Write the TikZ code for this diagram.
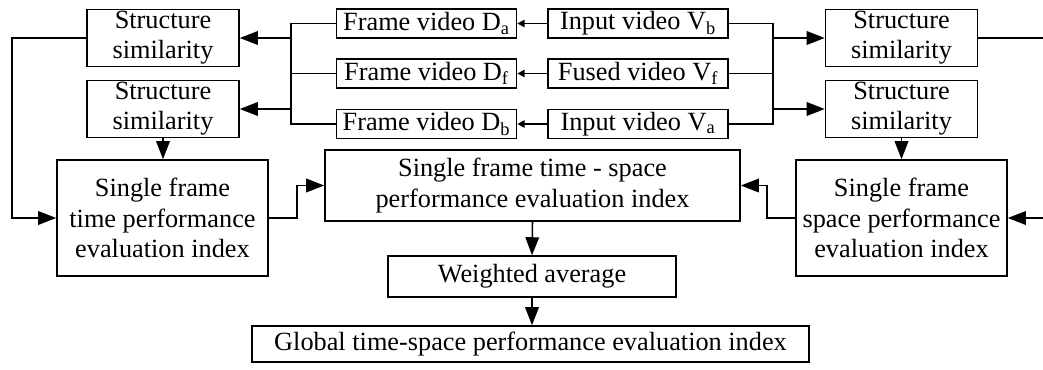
\documentclass[tikz,border=0pt]{standalone}
\usepackage{fontspec}
\setmainfont{Liberation Serif}
\usetikzlibrary{
    positioning,
    arrows.meta,
}
\tikzset{
    % Basic node styles
    box/.style={rectangle, draw, line width=1.1pt, align=center, inner sep=0pt,
                font=\fontsize{18.7}{21.5}\selectfont},
    ss box/.style={box, minimum width=3.8cm, minimum height=1.42cm},
    video box/.style={box, minimum width=4.5cm, minimum height=0.72cm},
    index box/.style={box, minimum width=5.275cm, minimum height=2.9cm},
    % Arrow styles
    arrow/.style={-{Triangle[length=4.5mm, width=3.4mm]}, line width=1.1pt},
    small arrow/.style={-{Triangle[length=1.8mm, width=1.8mm]}, line width=1.1pt},
    wire/.style={line width=1.1pt},
}

\begin{document}
\begin{tikzpicture}[x=0.025cm, y=-0.025cm]
    \useasboundingbox (0,0) rectangle (1043,369);

    % Components
    \node[ss box] (ssL1) at (163,38) {Structure\\similarity};
    \node[ss box] (ssL2) at (163,109) {Structure\\similarity};
    \node[ss box] (ssR1) at (901.5,38) {Structure\\similarity};
    \node[ss box] (ssR2) at (901.5,109) {Structure\\similarity};

    \node[video box] (fDa) at (426.5,23.5) {Frame video D\textsubscript{a}};
    \node[video box] (fDf) at (426.5,73.5) {Frame video D\textsubscript{f}};
    \node[video box] (fDb) at (426.5,124) {Frame video D\textsubscript{b}};
    \node[video box] (inVb) at (638,23.5) {Input video V\textsubscript{b}};
    \node[video box] (fuVf) at (638,73.5) {Fused video V\textsubscript{f}};
    \node[video box] (inVa) at (638,124) {Input video V\textsubscript{a}};

    \node[box, minimum width=10.375cm, minimum height=1.775cm] (tsMid) at (532.5,185.5)
        {Single frame time - space\\performance evaluation index};
    \node[index box] (timeB) at (162.5,218) {Single frame\\time performance\\evaluation index};
    \node[index box] (spaceB) at (901.5,218) {Single frame\\space performance\\evaluation index};

    \node[box, minimum width=7.2cm, minimum height=1.025cm] (wavg) at (532,276.5) {Weighted average};
    \node[box, minimum width=13.925cm, minimum height=0.9cm] (glob) at (530.5,344)
        {Global time-space performance evaluation index};

    % Buses
    \coordinate (busL) at (291,74);
    \coordinate (busR) at (773,74);
    \coordinate (loopL) at (12,38);
    \coordinate (loopR) at (1050,38);

    % Arrows
    \draw[small arrow] (inVb) -- (fDa);
    \draw[small arrow] (fuVf) -- (fDf);
    \draw[small arrow] (inVa) -- (fDb);

    \draw[wire] (fDa.west) -| (busL) |- (fDb.west);
    \draw[wire] (fDf.west) -- (fDf.west -| busL);
    \draw[arrow] (busL |- ssL1.east) -- (ssL1.east);
    \draw[arrow] (busL |- ssL2.east) -- (ssL2.east);

    \draw[wire] (inVb.east) -| (busR) |- (inVa.east);
    \draw[wire] (fuVf.east) -- (fuVf.east -| busR);
    \draw[arrow] (busR |- ssR1.west) -- (ssR1.west);
    \draw[arrow] (busR |- ssR2.west) -- (ssR2.west);

    \draw[arrow] (ssL1.west) -- (loopL) |- (timeB.west);
    \draw[arrow] (ssR1.east) -- (loopR) |- (spaceB.east);
    \draw[arrow] (ssL2.south) -- (ssL2.south |- timeB.north);
    \draw[arrow] (ssR2.south) -- (ssR2.south |- spaceB.north);

    \draw[arrow] (timeB.east) -- ++(28,0) |- (tsMid.west);
    \draw[arrow] (spaceB.west) -- ++(-28,0) |- (tsMid.east);
    \draw[arrow] (tsMid.south) -- (wavg.north);
    \draw[arrow] (wavg.south) -- (wavg.south |- glob.north);
\end{tikzpicture}
\end{document}
